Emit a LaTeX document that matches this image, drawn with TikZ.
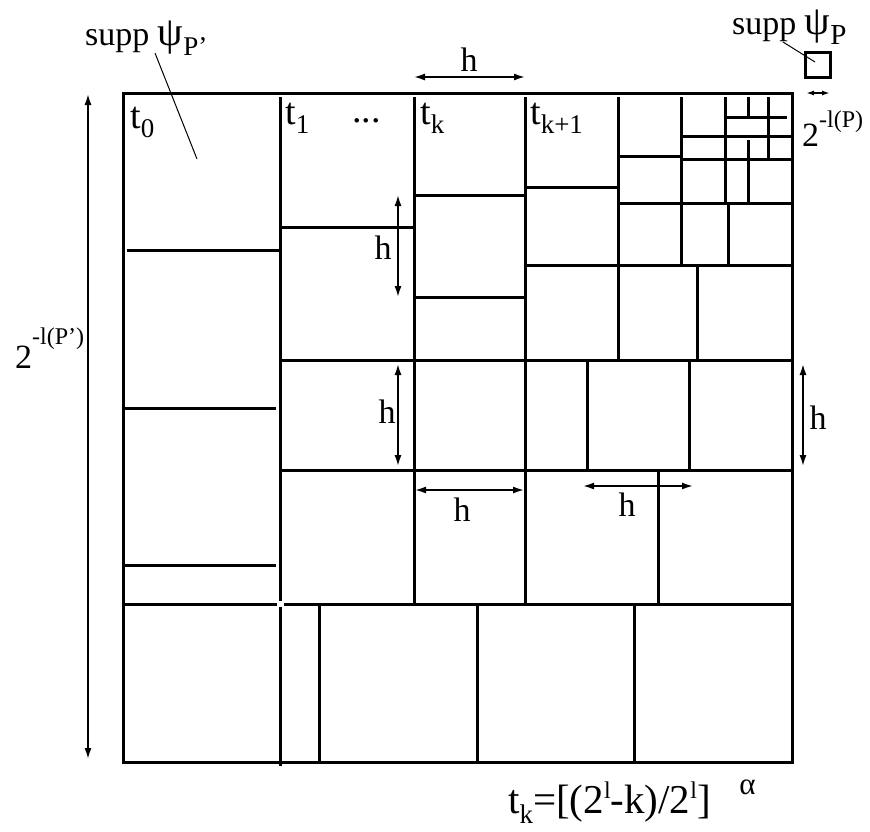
\documentclass[tikz,border=0pt]{standalone}
\usepackage{fontspec}
\setmainfont{Liberation Serif}
\usetikzlibrary{arrows.meta}

\newcommand{\lo}[2][-0.25em]{\raisebox{#1}{\fontsize{27}{30}\selectfont #2}}
\newcommand{\hi}[2][0.55em]{\raisebox{#1}{\fontsize{24}{30}\selectfont #2}}
\newcommand{\bigpsi}{\scalebox{1.2}{ψ}}

\tikzset{
  cell/.style={line width=3pt},
  dimarrow/.style={{Latex[length=12pt,width=7pt]}-{Latex[length=12pt,width=7pt]}, line width=2.5pt},
  lbl/.style={font=\fontsize{34}{40}\selectfont, inner sep=0pt},
  tlbl/.style={font=\fontsize{38}{44}\selectfont, inner sep=0pt, anchor=base west},
  leader/.style={line width=1pt}
}

\begin{document}
\begin{tikzpicture}[x=1pt, y=-1pt]
    \useasboundingbox (0,0) rectangle (870,831);

    % outer square
    \draw[cell] (123,93) rectangle (792,762);

    % vertical cuts
    \draw[cell] (280,97) -- (280,601);
    \draw[cell] (280,607) -- (280,766);
    \draw[cell] (414,97) -- (414,604);
    \draw[cell] (525,97) -- (525,604);
    \draw[cell] (618,97) -- (618,360);
    \draw[cell] (681,97) -- (681,265);
    \draw[cell] (725,97) -- (725,202);
    \draw[cell] (748,97) -- (748,117);
    \draw[cell] (748,140) -- (748,202);
    \draw[cell] (768,97) -- (768,158);
    \draw[cell] (728,203) -- (728,265);
    \draw[cell] (697,266) -- (697,362);
    \draw[cell] (587,360) -- (587,470);
    \draw[cell] (689,362) -- (689,470);
    \draw[cell] (658,470) -- (658,604);
    \draw[cell] (319,604) -- (319,762);
    \draw[cell] (477,604) -- (477,762);
    \draw[cell] (634,604) -- (634,762);

    % horizontal cuts
    \draw[cell] (127,250) -- (280,250);
    \draw[cell] (123,408) -- (276,408);
    \draw[cell] (123,565) -- (276,565);
    \draw[cell] (123,604) -- (277,604);
    \draw[cell] (284,604) -- (792,604);
    \draw[cell] (280,227) -- (414,227);
    \draw[cell] (280,360) -- (792,360);
    \draw[cell] (280,470) -- (792,470);
    \draw[cell] (415,195) -- (525,195);
    \draw[cell] (415,297) -- (525,297);
    \draw[cell] (525,187) -- (618,187);
    \draw[cell] (618,156) -- (681,156);
    \draw[cell] (618,203) -- (792,203);
    \draw[cell] (525,265) -- (792,265);
    \draw[cell] (725,117) -- (787,117);
    \draw[cell] (681,136) -- (792,136);
    \draw[cell] (681,159) -- (792,159);

    % nodes
    \node[tlbl] (t0) at (130,128) {t\lo{0}};
    \node[tlbl] (t1) at (285,124) {t\lo{1}};
    \node[tlbl] (dots) at (352,122) {...};
    \node[tlbl] (tk) at (420,124) {t\lo{k}};
    \node[tlbl] (tk1) at (530,124) {t\lo{k+1}};

    \node[lbl, anchor=base west] (suppbig) at (85,45) {supp \bigpsi\lo[-0.3em]{P’}};
    \node[lbl, anchor=base west] (suppsmall) at (732,34) {supp \bigpsi\lo[-0.3em]{\fontsize{29}{34}\selectfont P}};
    \node[draw, line width=2.5pt, minimum size=25pt, inner sep=0pt] (box) at (818,65) {};
    \node[lbl, anchor=base west] (lsmall) at (802,146) {2\hi{-l(P)}};
    \node[lbl, anchor=base west] (lbig) at (15,368) {2\hi[0.7em]{-l(P’)}};
    \node[lbl, anchor=base west, font=\fontsize{41}{46}\selectfont] (formula) at (508,813)
        {t\lo{k}=[(2\hi[0.35em]{l}-k)/2\hi[0.35em]{l}]\hspace{0.7em}\raisebox{0.45em}{\fontsize{31}{34}\selectfont α}};

    \node[lbl] (htop) at (469,60) {h};
    \node[lbl] (hleft1) at (383,248) {h};
    \node[lbl] (hleft2) at (387,412) {h};
    \node[lbl] (hright) at (818,418) {h};
    \node[lbl] (hmid1) at (462,510) {h};
    \node[lbl] (hmid2) at (627,505) {h};

    % leaders
    \coordinate (inbig) at (197,159);
    \coordinate (insmall) at (815,62);
    \draw[leader] (155,53) -- (inbig);
    \draw[leader] (783,42) -- (insmall);

    % dimension arrows
    \draw[dimarrow] (413,77) -- (526,77);
    \draw[dimarrow] (398,194) -- (398,298);
    \draw[dimarrow] (398,363) -- (398,467);
    \draw[dimarrow] (803,363) -- (803,467);
    \draw[dimarrow] (414,490) -- (525,490);
    \draw[dimarrow] (582,486) -- (694,486);
    \draw[dimarrow] (88,93) -- (88,760);
    \draw[{Latex[length=8pt,width=5pt]}-{Latex[length=8pt,width=5pt]}, line width=2pt] (806,93) -- (830,93);
\end{tikzpicture}
\end{document}
